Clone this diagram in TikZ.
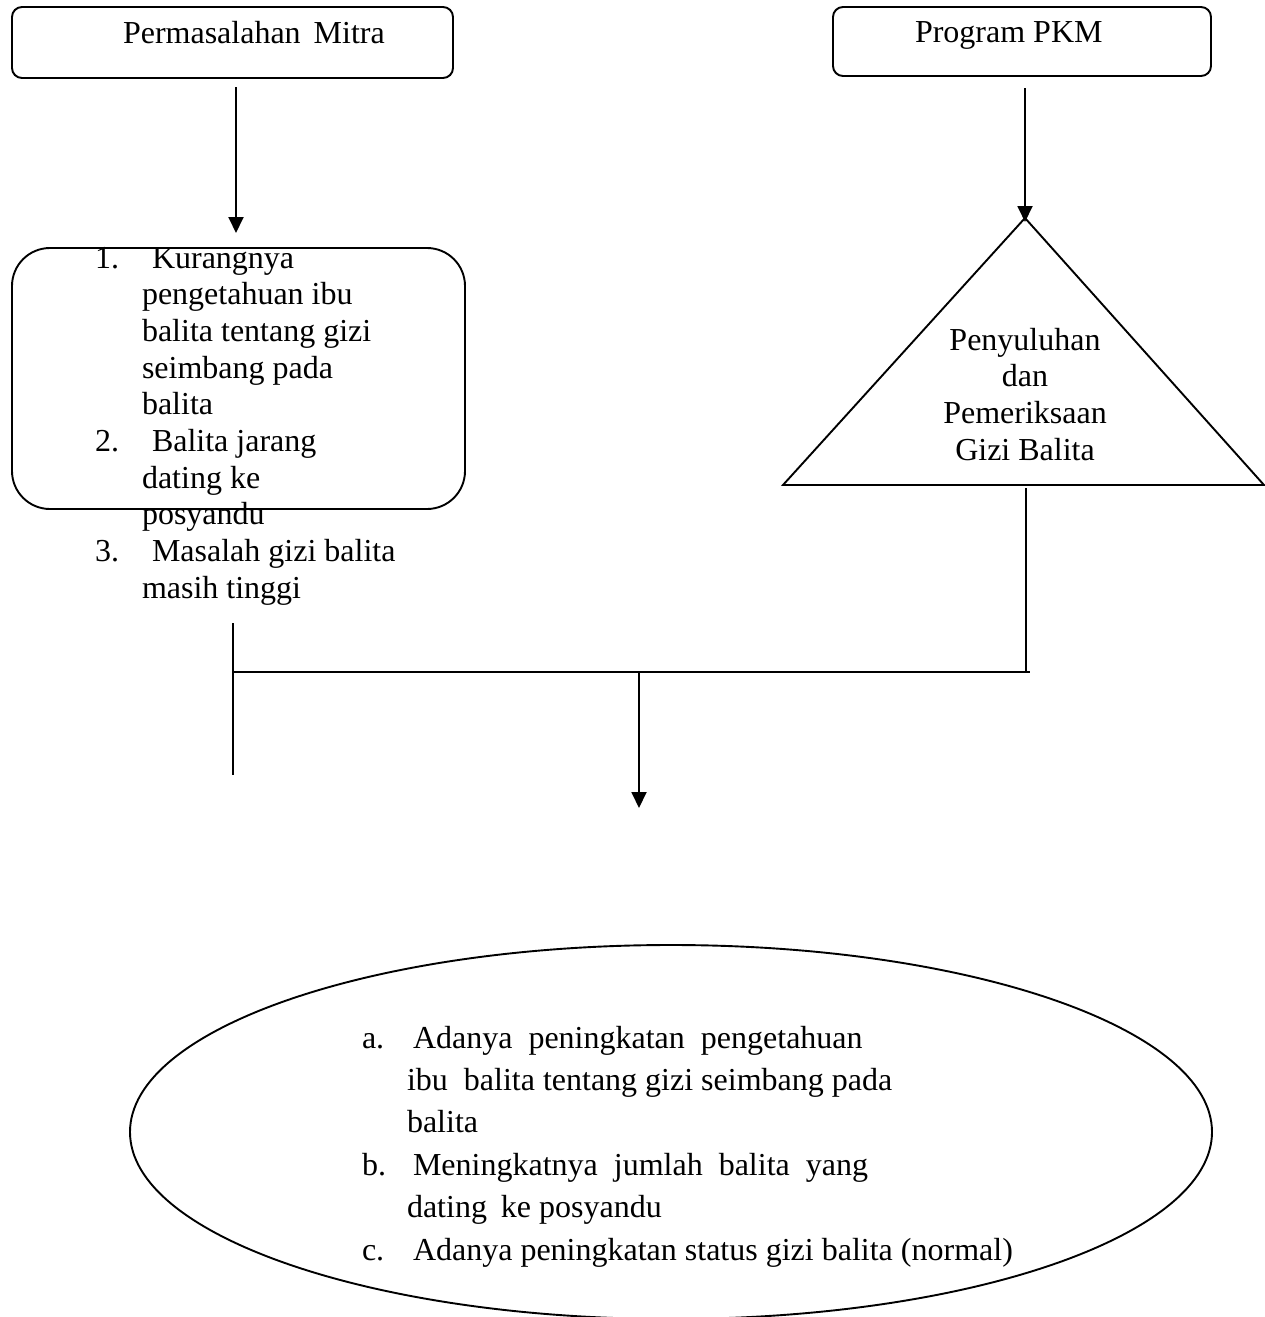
\documentclass[tikz,border=0pt]{standalone}
\usepackage{fontspec}
\setmainfont{Liberation Serif}
\usetikzlibrary{arrows.meta,shapes.geometric}
\begin{document}
\begin{tikzpicture}[x=1pt,y=-1pt,
  ln/.style={line width=1.9pt},
  arr/.style={ln,-{Triangle[length=16pt,width=15pt]}},
  smallbox/.style={draw,ln,rounded corners=10pt,inner sep=0pt,outer sep=0pt},
  bigbox/.style={draw,ln,rounded corners=38pt,inner sep=0pt,outer sep=0pt},
  txt/.style={inner sep=0pt,outer sep=0pt,font=\fontsize{32}{36}\selectfont},
  lt/.style={txt,anchor=base west},
  ct/.style={txt,anchor=base},
]
\useasboundingbox (0,0) rectangle (1265,1317);

% top boxes
\node[smallbox,minimum width=441pt,minimum height=71pt] (mitra) at (232.5,42.5) {};
\node[lt] (mitraT) at (123,43) {Permasalahan\hspace{5pt} Mitra};
\node[smallbox,minimum width=378pt,minimum height=69pt] (pkm) at (1022,41.5) {};
\node[lt] (pkmT) at (915,42) {Program PKM};

% problem box
\node[bigbox,minimum width=453pt,minimum height=261pt] (masalah) at (238.5,378.5) {};
\node[lt] (n1) at (95,268) {1.};
\node[lt] (l1) at (152,268) {Kurangnya};
\node[lt] (l2) at (142,304.7) {pengetahuan ibu};
\node[lt] (l3) at (142,341.4) {balita tentang gizi};
\node[lt] (l4) at (142,378.1) {seimbang pada};
\node[lt] (l5) at (142,414.8) {balita};
\node[lt] (n2) at (95,451.5) {2.};
\node[lt] (l6) at (152,451.5) {Balita jarang};
\node[lt] (l7) at (142,488.2) {dating ke};
\node[lt] (l8) at (142,524.9) {posyandu};
\node[lt] (n3) at (95,561.6) {3.};
\node[lt] (l9) at (152,561.6) {Masalah gizi balita};
\node[lt] (l10) at (142,598.3) {masih tinggi};

% triangle
\coordinate (apex) at (1025,218);
\coordinate (tbl) at (783,485);
\coordinate (tbr) at (1264,485);
\draw[ln,line join=miter] (apex) -- (tbl) -- (tbr) -- cycle;
\node[ct] (t1) at (1025,350) {Penyuluhan};
\node[ct] (t2) at (1025,386.5) {dan};
\node[ct] (t3) at (1025,423) {Pemeriksaan};
\node[ct] (t4) at (1025,460) {Gizi Balita};

% connectors
\coordinate (a1s) at (236,87);
\coordinate (a1e) at (236,233);
\draw[arr] (a1s) -- (a1e);
\coordinate (a2s) at (1025,88);
\coordinate (a2e) at (1025,222);
\draw[arr] (a2s) -- (a2e);

\coordinate (lvt) at (233,623);
\coordinate (lvb) at (233,775);
\draw[ln] (lvt) -- (lvb);
\coordinate (rvt) at (1026,488);
\coordinate (rvb) at (1026,672);
\draw[ln] (rvt) -- (rvb);
\coordinate (hl) at (233,672);
\coordinate (hr) at (1030,672);
\draw[line width=2.3pt] (hl) -- (hr);
\coordinate (hm) at (639,672);
\coordinate (a3e) at (639,808);
\draw[arr] (hm) -- (a3e);

% result ellipse
\node[draw,ln,ellipse,minimum width=1082pt,minimum height=374pt,inner sep=0pt,outer sep=0pt] (hasil) at (671,1132) {};
\node[lt] (ea) at (362,1048) {a.};
\node[lt] (e1) at (413,1048) {Adanya\hspace{8pt} peningkatan\hspace{8pt} pengetahuan};
\node[lt] (e2) at (407,1090) {ibu\hspace{8pt} balita tentang gizi seimbang pada};
\node[lt] (e3) at (407,1132) {balita};
\node[lt] (eb) at (362,1175) {b.};
\node[lt] (e4) at (413,1175) {Meningkatnya\hspace{8pt} jumlah\hspace{8pt} balita\hspace{8pt} yang};
\node[lt] (e5) at (407,1217) {dating\hspace{6pt} ke posyandu};
\node[lt] (ec) at (362,1260) {c.};
\node[lt] (e6) at (413,1260) {Adanya peningkatan status gizi balita (normal)};
\end{tikzpicture}
\end{document}
